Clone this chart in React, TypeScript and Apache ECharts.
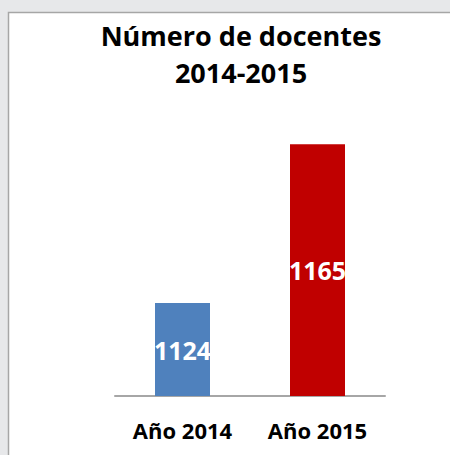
import React, { useEffect, useRef } from "react";
import * as echarts from "echarts";

const titleText = "Número de docentes\n2014-2015";
const categories = ["Año 2014", "Año 2015"];
const values = [1124, 1165];
const barColors = ["#4F81BD", "#C00000"];
const axisMin = 1100;
const axisMax = 1180;

export default function App() {
  const ref = useRef<HTMLDivElement>(null);
  useEffect(() => {
    document.body.style.margin = "0";
    const chart = echarts.init(ref.current!, null, { renderer: "svg" });
    const font = "'Open Sans', 'DejaVu Sans', sans-serif";
    chart.setOption({
      animation: false,
      backgroundColor: "#E7E8EA",
      graphic: [
        {
          type: "rect",
          z: -10,
          silent: true,
          shape: { x: 8.5, y: 12.5, width: 460, height: 460 },
          style: { fill: "#FFFFFF", stroke: "#A6A6A6", lineWidth: 1.5 },
        },
      ],
      title: {
        text: titleText,
        left: 241,
        top: 17,
        padding: 0,
        textAlign: "center",
        textStyle: {
          fontFamily: font,
          fontWeight: "bold",
          fontSize: 27,
          lineHeight: 37,
          color: "#000000",
        },
      },
      grid: { left: 115, right: 65, top: 86, bottom: 59, containLabel: false },
      xAxis: {
        type: "category",
        data: categories,
        axisLine: { show: true, lineStyle: { color: "#A6A6A6", width: 2 } },
        axisTick: { show: false },
        axisLabel: {
          fontFamily: font,
          fontWeight: "bold",
          fontSize: 22,
          color: "#000000",
          margin: 23,
        },
      },
      yAxis: {
        type: "value",
        min: axisMin,
        max: axisMax,
        show: false,
        splitLine: { show: false },
      },
      series: [
        {
          type: "bar",
          data: values.map((v, i) => ({ value: v, itemStyle: { color: barColors[i] } })),
          barWidth: 55,
          label: {
            show: true,
            position: "inside",
            fontFamily: font,
            fontWeight: "bold",
            fontSize: 25,
            color: "#FFFFFF",
          },
        },
      ],
    });
    return () => chart.dispose();
  }, []);
  return <div ref={ref} style={{ width: 450, height: 455 }} />;
}
